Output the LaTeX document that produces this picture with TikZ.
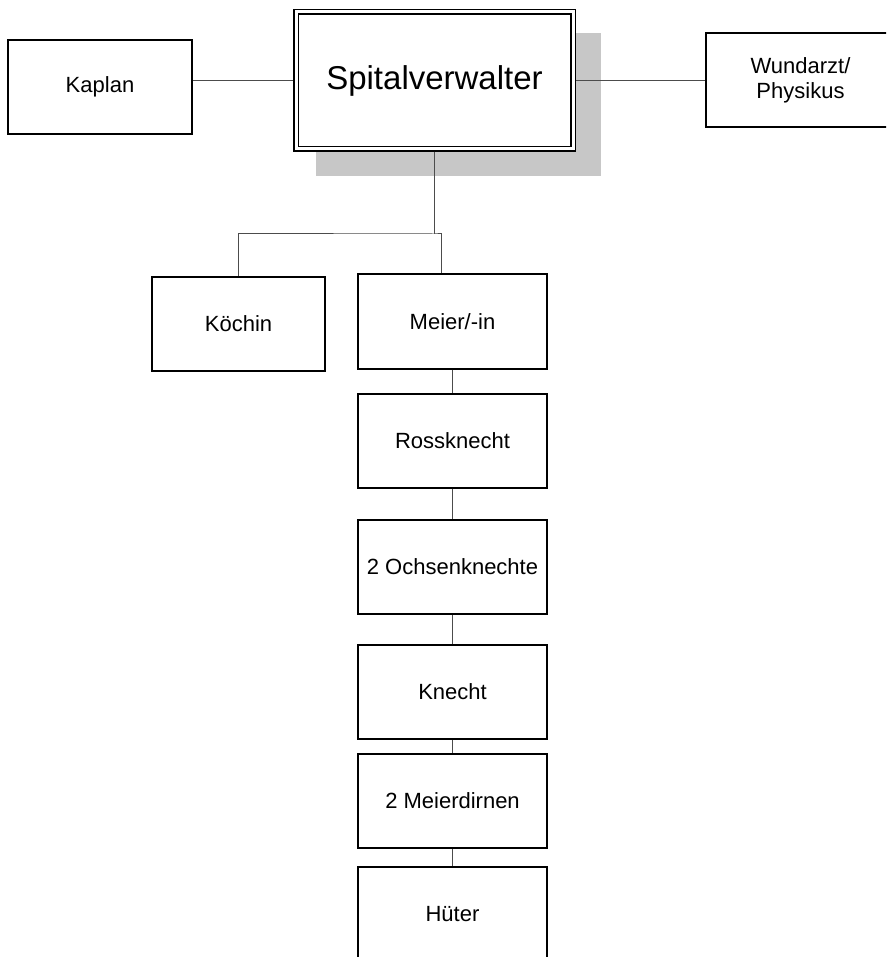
\documentclass[tikz,border=0pt]{standalone}
\usepackage{fontspec}
\setmainfont{Liberation Sans}

\begin{document}
\begin{tikzpicture}[x=1pt,y=-1pt,
    orgbox/.style={draw,fill=white,line width=2pt,minimum width=189pt,
      minimum height=94pt,inner sep=0pt,align=center,
      font=\fontsize{22}{25}\selectfont},
    headbox/.style={draw,fill=white,double=white,double distance=3pt,
      line width=1.5pt,outer sep=3pt,minimum width=277pt,minimum height=137pt,
      inner sep=0pt,font=\fontsize{33}{38}\selectfont},
    link/.style={draw=black!70,line width=1pt}]
    \useasboundingbox (0,0) rectangle (886,957);
    \clip (0,0) rectangle (886,957);
    % shadow of the head box
    \fill[black!22] (316,33) rectangle (601,176);
    \node[headbox] (spital) at (434.5,80.5) {Spitalverwalter};
    \node[orgbox,minimum width=184pt] (kaplan) at (100,87) {Kaplan};
    \node[orgbox] (wundarzt) at (800.5,80) {Wundarzt/\\Physikus};
    \node[orgbox,minimum width=173pt] (koechin) at (238.5,324) {Köchin};
    \node[orgbox] (meier) at (452.5,321.5) {Meier/-in};
    \node[orgbox] (ross) at (452.5,440.5) {Rossknecht};
    \node[orgbox] (ochsen) at (452.5,567) {2 Ochsenknechte};
    \node[orgbox] (knecht) at (452.5,692) {Knecht};
    \node[orgbox] (dirnen) at (452.5,801) {2 Meierdirnen};
    \node[orgbox,minimum height=95pt] (hueter) at (452.5,914.5) {Hüter};
    \coordinate (fork) at (434,234);
    \draw[link] (kaplan.east |- spital.west) -- (spital.west);
    \draw[link] (spital.east) -- (spital.east -| wundarzt.west);
    \draw[link] (spital.south) -- (spital.south |- fork);
    \draw[link] (koechin.north) |- (fork) -| ([xshift=-11.5pt]meier.north);
    \foreach \a/\b in {meier/ross,ross/ochsen,ochsen/knecht,knecht/dirnen,dirnen/hueter}
      \draw[link] (\a.south) -- (\b.north);
\end{tikzpicture}
\end{document}
